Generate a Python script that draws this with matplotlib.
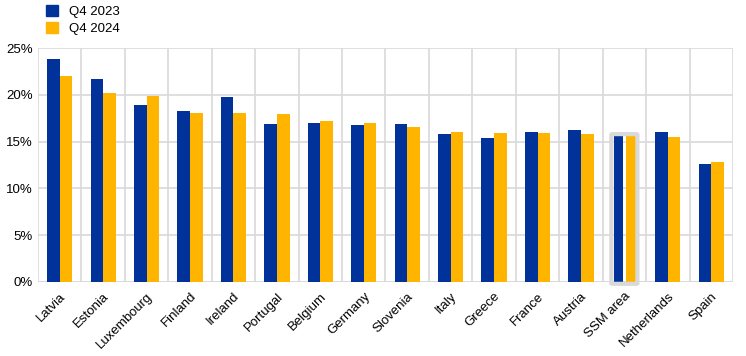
import matplotlib.pyplot as plt
import numpy as np
from matplotlib.patches import FancyBboxPatch, Patch

countries = ["Latvia", "Estonia", "Luxembourg", "Finland", "Ireland", "Portugal",
             "Belgium", "Germany", "Slovenia", "Italy", "Greece", "France",
             "Austria", "SSM area", "Netherlands", "Spain"]
q4_2023 = [23.8, 21.7, 18.9, 18.3, 19.8, 16.9, 17.0, 16.8, 16.9, 15.8, 15.4, 16.0,
           16.2, 15.6, 16.0, 12.6]
q4_2024 = [22.0, 20.2, 19.9, 18.1, 18.1, 17.9, 17.2, 17.0, 16.6, 16.0, 15.9, 15.9,
           15.8, 15.6, 15.5, 12.8]
yticks = [0, 5, 10, 15, 20, 25]

BLUE = "#003299"
YELLOW = "#FFB400"
GRID = "#d9d9d9"

plt.rcParams["font.family"] = ["Liberation Sans", "DejaVu Sans"]

fig = plt.figure(figsize=(7.46, 3.56), dpi=100)
ax = fig.add_axes([0.051, 0.208, 0.9315, 0.657])

x = np.arange(len(countries))
w = 0.29
highlight = countries.index("SSM area")

for i in x:
    if i == highlight:
        # highlighted aggregate: slimmer bars inside a grey frame
        ax.bar(i - 0.135, q4_2023[i], width=0.21, color=BLUE, zorder=3)
        ax.bar(i + 0.15, q4_2024[i], width=0.23, color=YELLOW, zorder=3)
        top = max(q4_2023[i], q4_2024[i])
        box = FancyBboxPatch((i - 0.3, -0.2), 0.6, top + 0.4,
                             boxstyle="round,pad=0,rounding_size=0.05",
                             facecolor="none", edgecolor=GRID, linewidth=3,
                             zorder=4, clip_on=False)
        ax.add_patch(box)
    else:
        ax.bar(i - w / 2, q4_2023[i], width=w, color=BLUE, zorder=3)
        ax.bar(i + w / 2, q4_2024[i], width=w, color=YELLOW, zorder=3)

ax.set_xlim(-0.5, len(countries) - 0.5)
ax.set_ylim(0, 25)
ax.set_yticks(yticks)
ax.set_yticklabels([f"{v}%" for v in yticks], fontsize=9.5)
ax.set_xticks(x)
ax.set_xticklabels(countries, rotation=45, ha="right", rotation_mode="anchor",
                   fontsize=9.5)
ax.tick_params(length=0, pad=4)
ax.tick_params(axis="x", pad=6)

ax.set_xticks(np.arange(-0.5, len(countries)), minor=True)
ax.grid(axis="y", color=GRID, linewidth=1.2, zorder=0)
ax.grid(axis="x", which="minor", color=GRID, linewidth=1.2, zorder=0)
ax.tick_params(which="minor", length=0)
for s in ax.spines.values():
    s.set_visible(False)
ax.axhline(0, color=GRID, linewidth=1.2, zorder=1)

handles = [Patch(color=BLUE, label="Q4 2023"), Patch(color=YELLOW, label="Q4 2024")]
fig.legend(handles=handles, loc="upper left", bbox_to_anchor=(0.046, 1.02),
           frameon=False, fontsize=9.5, handlelength=0.9, handleheight=0.9,
           handletextpad=0.8, labelspacing=0.35)

fig.savefig("out.png", dpi=100)
